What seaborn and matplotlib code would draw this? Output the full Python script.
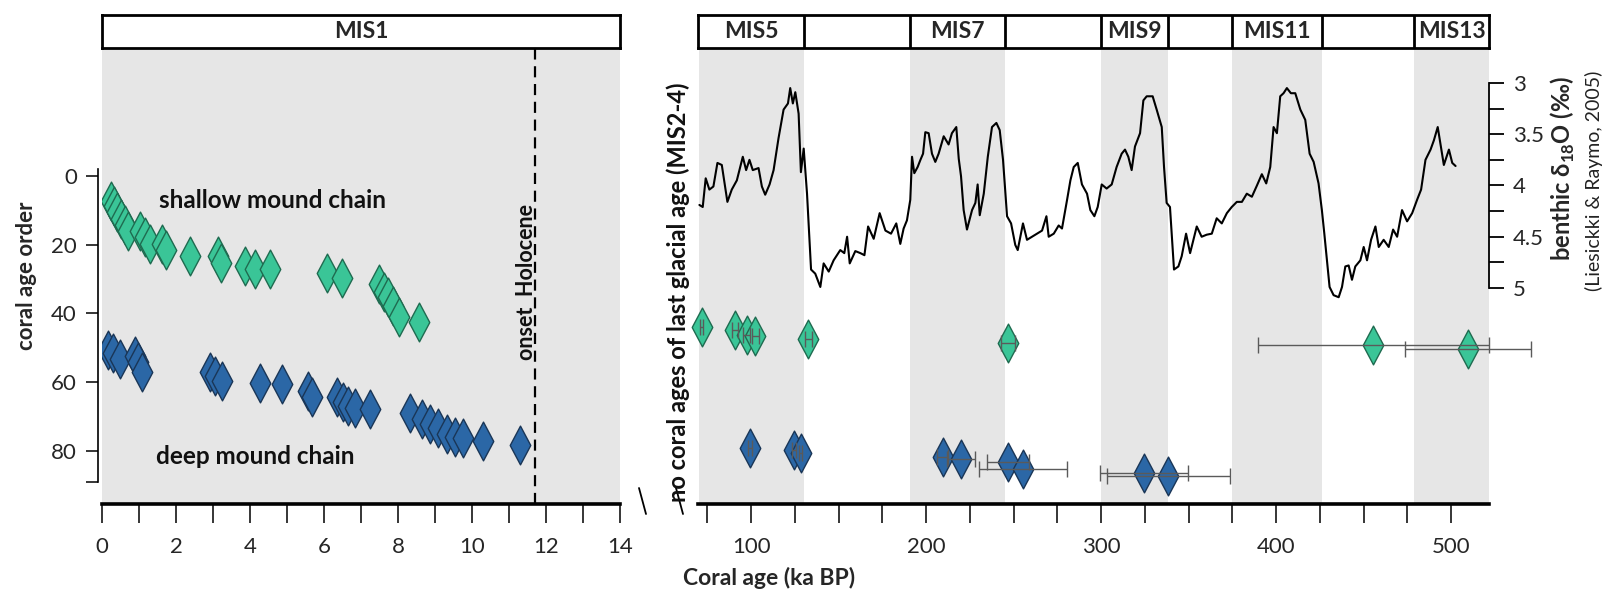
import numpy as np
import pandas as pd
import matplotlib
matplotlib.use("Agg")
import matplotlib.pyplot as plt
import seaborn as sns
from matplotlib.path import Path
from matplotlib.lines import Line2D

# ---------------- data ----------------
# Holocene corals (left panel): age (ka BP) and coral age order
shallow_holo_age = [0.23, 0.32, 0.41, 0.50, 0.62, 0.71, 1.03, 1.16, 1.30, 1.61, 1.73, 2.38,
                    3.14, 3.22, 3.86, 4.14, 4.54, 6.07, 6.48, 7.49, 7.63, 7.73, 7.86, 8.03, 8.58]
shallow_holo_order = [7.4, 8.8, 10.6, 12.4, 14.3, 16.1, 16.1, 17.9, 19.7, 19.7, 21.5, 23.3,
                      23.3, 25.2, 26.1, 27.0, 27.0, 28.3, 29.7, 31.5, 33.8, 35.2, 37.9, 41.1, 42.4]
deep_holo_age = [0.17, 0.31, 0.49, 0.89, 0.98, 1.07, 2.92, 3.05, 3.23, 4.27, 4.86, 5.58, 5.67,
                 6.34, 6.52, 6.66, 6.84, 7.24, 8.32, 8.64, 8.86, 9.09, 9.32, 9.54, 9.77, 10.31, 11.30]
deep_holo_order = [50.6, 51.5, 53.3, 52.4, 54.2, 57.0, 57.0, 58.3, 59.7, 60.3, 60.6, 62.4, 64.2,
                   64.2, 65.6, 67.0, 67.6, 67.9, 68.8, 70.6, 72.0, 73.3, 74.9, 75.8, 76.1, 77.0, 78.2]

# Pre-Holocene corals (right panel)
shallow_old_age = [71.8, 90.9, 97.5, 102.3, 132.7, 246.7, 455.6, 509.5]
shallow_old_order = [43.8, 44.8, 46.2, 46.5, 47.5, 48.5, 49.3, 50.3]
shallow_old_err = [1.0, 1.5, 2.0, 2.0, 2.0, 4.0, 66.0, 36.0]
deep_old_age = [99.4, 124.6, 128.4, 209.5, 219.8, 247.0, 255.3, 324.7, 338.5]
deep_old_order = [79.2, 79.7, 80.6, 81.8, 82.4, 83.1, 85.1, 86.5, 87.2]
deep_old_err = [1.0, 1.0, 1.0, 3.0, 8.0, 12.0, 25.0, 25.0, 35.0]

# Benthic d18O stack (Lisiecki & Raymo 2005)
lr04_age = [70.5, 72.4, 74.1, 76.2, 78.5, 80.8, 83.3, 86.5, 89.0, 91.9, 95.3, 97.2, 99.1, 101.0,
            104.3, 106.2, 108.1, 110.6, 112.9, 115.7, 118.6, 121.1, 122.4, 123.9, 125.3, 127.2,
            128.5, 130.1, 132.0, 134.3, 136.7, 139.6, 141.5, 144.4, 147.2, 151.0, 153.3, 154.9,
            156.4, 159.6, 162.5, 164.8, 166.9, 170.1, 173.5, 176.8, 180.0, 183.0, 185.3, 187.2,
            189.1, 191.0, 192.0, 193.3, 195.2, 196.8, 198.3, 199.6, 201.5, 203.4, 205.3, 207.2,
            210.1, 212.9, 214.8, 217.3, 218.7, 220.0, 221.5, 223.4, 226.3, 228.2, 229.5, 230.7,
            233.0, 235.3, 237.7, 240.2, 242.1, 244.0, 246.3, 248.6, 251.0, 252.4, 255.4, 257.7,
            260.6, 263.4, 266.3, 268.8, 270.1, 273.0, 275.8, 277.7, 280.6, 282.5, 284.4, 286.7,
            289.1, 292.0, 293.9, 296.2, 298.1, 300.4, 303.2, 306.1, 308.9, 311.8, 313.7, 315.6,
            317.5, 319.4, 322.3, 324.2, 326.1, 329.5, 331.8, 334.7, 336.0, 337.5, 339.4, 341.7,
            344.2, 346.1, 348.6, 350.9, 354.7, 357.5, 360.4, 363.3, 366.1, 369.0, 371.9, 374.7,
            377.6, 380.5, 383.3, 386.2, 389.1, 391.9, 394.4, 396.7, 398.6, 400.5, 402.4, 404.3,
            406.2, 408.5, 411.0, 413.9, 416.7, 419.2, 421.5, 424.3, 426.2, 427.6, 429.1, 430.6,
            432.9, 435.8, 437.7, 439.6, 441.5, 443.4, 445.3, 448.2, 450.1, 452.0, 454.3, 456.8,
            458.7, 461.5, 464.4, 466.9, 469.2, 472.0, 474.9, 477.8, 480.6, 482.9, 485.4, 488.3,
            490.2, 492.4, 494.9, 495.9, 498.8, 500.7, 502.6]
lr04_d18o = [4.19, 4.21, 3.93, 4.04, 4.01, 3.78, 3.80, 4.16, 4.04, 3.95, 3.72, 3.85, 3.75, 3.85,
             3.83, 4.01, 4.09, 3.99, 3.85, 3.54, 3.26, 3.20, 3.05, 3.20, 3.09, 3.30,
             3.87, 3.64, 4.08, 4.82, 4.86, 4.99, 4.76, 4.84, 4.73, 4.63, 4.66, 4.50,
             4.76, 4.64, 4.66, 4.68, 4.40, 4.52, 4.27, 4.44, 4.47, 4.37, 4.57, 4.42,
             4.34, 4.14, 3.72, 3.88, 3.82, 3.75, 3.69, 3.48, 3.49, 3.69, 3.77, 3.69,
             3.52, 3.60, 3.49, 3.43, 3.74, 3.91, 4.24, 4.43, 4.24, 4.17, 3.99, 4.29,
             4.08, 3.72, 3.43, 3.39, 3.46, 3.75, 4.30, 4.37, 4.58, 4.63, 4.37, 4.53,
             4.50, 4.47, 4.44, 4.30, 4.50, 4.47, 4.39, 4.42, 4.14, 3.95, 3.82, 3.78,
             3.99, 4.08, 4.24, 4.30, 4.21, 3.99, 4.03, 3.99, 3.82, 3.69, 3.65, 3.72,
             3.85, 3.62, 3.49, 3.17, 3.13, 3.13, 3.26, 3.43, 3.82, 4.17, 4.21, 4.82,
             4.79, 4.69, 4.47, 4.66, 4.40, 4.50, 4.48, 4.47, 4.32, 4.37, 4.27, 4.21,
             4.16, 4.16, 4.08, 4.11, 4.00, 3.89, 3.98, 3.82, 3.43, 3.49, 3.13, 3.10,
             3.05, 3.10, 3.10, 3.26, 3.36, 3.69, 3.77, 3.98, 4.24, 4.47, 4.73, 4.99,
             5.07, 5.09, 4.99, 4.79, 4.78, 4.92, 4.79, 4.73, 4.60, 4.73, 4.53, 4.40,
             4.60, 4.53, 4.60, 4.43, 4.50, 4.24, 4.35, 4.27, 4.14, 4.04, 3.75, 3.65,
             3.56, 3.43, 3.69, 3.80, 3.65, 3.78, 3.81]

# Marine isotope stages (right panel)
mis_start = [70, 130, 191, 245, 300, 338, 375, 426, 479]
mis_end = [130, 191, 245, 300, 338, 375, 426, 479, 533]
mis_label = ["MIS5", "", "MIS7", "", "MIS9", "", "MIS11", "", "MIS13"]
holocene_onset = 11.7

left_xticks = [0, 2, 4, 6, 8, 10, 12, 14]
right_xticks = [100, 200, 300, 400, 500]
order_ticks = [0, 20, 40, 60, 80]
d18o_ticks = [3, 3.5, 4, 4.5, 5]

# ---------------- style ----------------
sns.set_theme(style="white")
plt.rcParams["font.family"] = ["Lato", "DejaVu Sans"]
plt.rcParams["mathtext.fontset"] = "custom"
plt.rcParams["mathtext.rm"] = "Lato"
plt.rcParams["mathtext.bf"] = "Lato:bold"
NARROW = ["Liberation Sans Narrow", "Lato", "DejaVu Sans"]

GRAY = "#e6e6e6"
GREEN, GREEN_E = "#3ac597", "#1f6b50"
BLUE, BLUE_E = "#2b67a6", "#1a3657"

W, H = 1603, 593
fig = plt.figure(figsize=(W / 100, H / 100), dpi=100)


def rect(x0, y0, x1, y1):
    return [x0 / W, 1 - y1 / H, (x1 - x0) / W, (y1 - y0) / H]


axL = fig.add_axes(rect(102, 48, 620, 504))
axR = fig.add_axes(rect(698, 48, 1489, 504))
topL = fig.add_axes(rect(102, 15, 620, 48))
topR = fig.add_axes(rect(698, 15, 1489, 48))

diamond = Path([(0, 1), (0.53, 0), (0, -1), (-0.53, 0), (0, 1)],
               [Path.MOVETO, Path.LINETO, Path.LINETO, Path.LINETO, Path.CLOSEPOLY])
MS = 780

YLIM = (95.4, -37.2)
LXLIM = (0, 14)
RXLIM = (69.7, 521.7)

# ---------- left panel ----------
axL.set_facecolor(GRAY)
sns.scatterplot(x=shallow_holo_age, y=shallow_holo_order, ax=axL, marker=diamond, s=MS,
                color=GREEN, edgecolor=GREEN_E, linewidth=1.0, zorder=3, legend=False)
sns.scatterplot(x=deep_holo_age, y=deep_holo_order, ax=axL, marker=diamond, s=MS,
                color=BLUE, edgecolor=BLUE_E, linewidth=1.0, zorder=3, legend=False)
axL.axvline(holocene_onset, color="black", ls=(0, (5, 3)), lw=1.6, zorder=2)
axL.text(11.46, 30.8, "onset  Holocene", rotation=90, ha="center", va="center",
         fontsize=15.5, fontweight="bold", color="#111111")
axL.text(4.62, 7.0, "shallow mound chain", ha="center", va="center",
         fontsize=17.5, fontweight="bold", color="#111111")
axL.text(4.13, 81.7, "deep mound chain", ha="center", va="center",
         fontsize=17.5, fontweight="bold", color="#111111")
axL.set_xlim(*LXLIM)
axL.set_ylim(*YLIM)
for s in ["top", "right"]:
    axL.spines[s].set_visible(False)
axL.spines["bottom"].set_linewidth(2.6)
axL.spines["bottom"].set_color("black")
axL.spines["left"].set_color("black")
axL.spines["left"].set_linewidth(1.2)
axL.spines["left"].set_position(("outward", 3))
axL.spines["left"].set_bounds(-2, 89)
axL.set_xticks(left_xticks)
axL.set_xticklabels([str(t) for t in left_xticks], fontfamily=NARROW)
axL.set_xticks(range(1, 14, 2), minor=True)
axL.set_yticks(order_ticks)
axL.set_yticklabels([str(t) for t in order_ticks])
axL.set_yticks([89], minor=True)
axL.tick_params(axis="x", which="both", direction="out", length=14, width=1.1,
                color="black", bottom=True, pad=10, labelsize=16)
axL.tick_params(axis="y", which="both", direction="out", length=9, width=1.1,
                color="black", left=True, pad=6, labelsize=16)
axL.set_ylabel("coral age order", fontsize=16, fontweight="bold", labelpad=10)
axL.grid(False)

# ---------- right panel ----------
axR.set_facecolor("white")
for s0, s1, lab in zip(mis_start, mis_end, mis_label):
    if lab:
        axR.axvspan(s0, s1, color=GRAY, lw=0, zorder=0)
sns.scatterplot(x=shallow_old_age, y=shallow_old_order, ax=axR, marker=diamond, s=MS,
                color=GREEN, edgecolor=GREEN_E, linewidth=1.0, zorder=3, legend=False,
                clip_on=False)
sns.scatterplot(x=deep_old_age, y=deep_old_order, ax=axR, marker=diamond, s=MS,
                color=BLUE, edgecolor=BLUE_E, linewidth=1.0, zorder=3, legend=False,
                clip_on=False)
axR.errorbar(shallow_old_age, shallow_old_order, xerr=shallow_old_err, fmt="none",
             ecolor="#5a5a5a", elinewidth=1.0, capsize=5.5, capthick=1.0, zorder=4, clip_on=False)
axR.errorbar(deep_old_age, deep_old_order, xerr=deep_old_err, fmt="none",
             ecolor="#5a5a5a", elinewidth=1.0, capsize=5.5, capthick=1.0, zorder=4, clip_on=False)
axR.set_ylim(*YLIM)
axR.set_yticks([])
for s in ["top", "right", "left"]:
    axR.spines[s].set_visible(False)
axR.spines["bottom"].set_linewidth(2.6)
axR.spines["bottom"].set_color("black")
axR.set_xticks(right_xticks)
axR.set_xticklabels([str(t) for t in right_xticks], fontfamily=NARROW)
axR.set_xticks([t for t in range(75, 525, 25) if t not in right_xticks], minor=True)
axR.tick_params(axis="x", which="both", direction="out", length=14, width=1.1,
                color="black", bottom=True, pad=10, labelsize=16)
axR.grid(False)

ax2 = axR.twinx()
sns.lineplot(x=lr04_age, y=lr04_d18o, ax=ax2, color="black", lw=1.5,
             estimator=None, sort=False, legend=False)
ax2.set_ylim(7.107, 2.659)
ax2.set_xlim(*RXLIM)
axR.set_xlim(*RXLIM)
for s in ["top", "left", "bottom"]:
    ax2.spines[s].set_visible(False)
ax2.spines["right"].set_bounds(3, 5)
ax2.spines["right"].set_color("black")
ax2.spines["right"].set_linewidth(1.3)
ax2.set_yticks(d18o_ticks)
ax2.set_yticklabels(["3", "3.5", "4", "4.5", "5"])
ax2.set_yticks([3.25, 3.75, 4.25, 4.75], minor=True)
ax2.tick_params(axis="y", which="both", direction="out", length=11, width=1.3,
                color="black", right=True, pad=6, labelsize=16)
ax2.set_ylabel("")
ax2.grid(False)

# ---------- top MIS boxes ----------
for ax in (topL, topR):
    ax.set_xticks([])
    ax.set_yticks([])
    ax.set_facecolor("white")
    for s in ax.spines.values():
        s.set_visible(True)
        s.set_linewidth(2.0)
        s.set_color("black")
topL.set_xlim(*LXLIM)
topL.set_ylim(0, 1)
topL.text(7, 0.5, "MIS1", ha="center", va="center", fontsize=16.5, fontweight="bold")
topR.set_xlim(*RXLIM)
topR.set_ylim(0, 1)
for s0, s1, lab in zip(mis_start, mis_end, mis_label):
    if s0 > RXLIM[0] + 1:
        topR.axvline(s0, color="black", lw=2.0)
    if lab:
        c = (max(s0, RXLIM[0]) + min(s1, RXLIM[1])) / 2
        topR.text(c, 0.5, lab, ha="center", va="center", fontsize=16.5, fontweight="bold")

# ---------- labels & break marks ----------
fig.text(678 / W, 1 - 292 / H, "no coral ages of last glacial age (MIS2-4)", rotation=90,
         ha="center", va="center", fontsize=17, fontweight="bold", color="#111111")
fig.text(769 / W, 1 - 578 / H, "Coral age (ka BP)", ha="center", va="center",
         fontsize=16.5, fontweight="bold", family=NARROW)
fig.text(1563 / W, 1 - 169 / H, r"benthic δ$_{\mathbf{18}}$O (‰)", rotation=90,
         ha="center", va="center", fontsize=17, fontweight="bold", family=["Lato", "DejaVu Sans"])
fig.text(1594 / W, 1 - 181 / H, "(Liesickki & Raymo, 2005)", rotation=90,
         ha="center", va="center", fontsize=14, color="#222222")
for x0 in (639, 676):
    fig.add_artist(Line2D([x0 / W, (x0 + 7) / W], [1 - 488 / H, 1 - 514 / H],
                          color="black", lw=1.3))

fig.savefig("out.png", dpi=100, facecolor="white")
